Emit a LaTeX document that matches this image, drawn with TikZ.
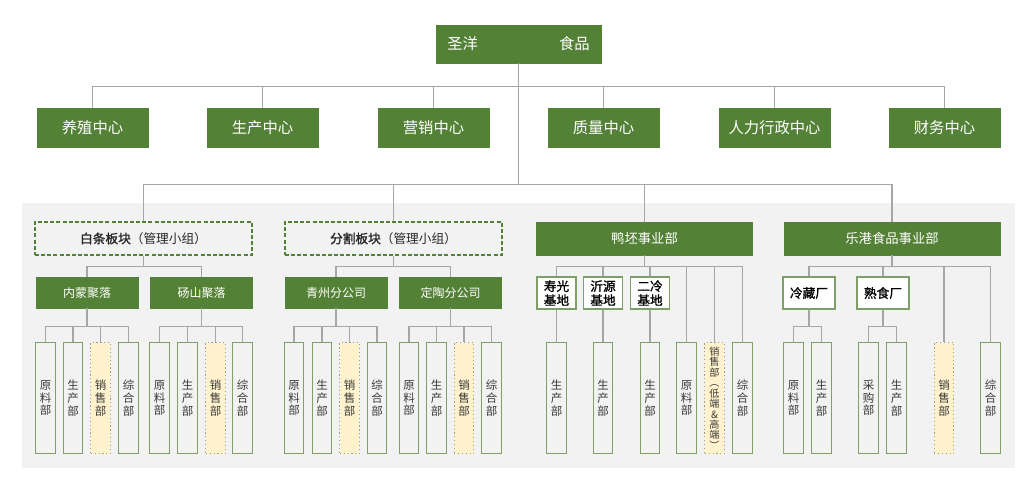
\documentclass[tikz,border=0pt]{standalone}
\usepackage{fontspec}
\setmainfont{Noto Sans CJK SC}
\newfontfamily\semib{Noto Sans CJK SC}[FakeBold=1.2]
\usetikzlibrary{calc}
\definecolor{gr}{HTML}{538135}
\definecolor{ln}{HTML}{A6A6A6}
\definecolor{bg}{HTML}{F2F2F2}
\definecolor{db}{HTML}{7F9F68}
\definecolor{ylw}{HTML}{FFF2CC}
\definecolor{yb}{HTML}{A89A7E}
\definecolor{tx}{HTML}{3A3A3A}
\begin{document}
\begin{tikzpicture}[x=0.75pt,y=-0.75pt,
 conn/.style={draw=ln,line width=0.8pt},
 gbox/.style={fill=gr,draw=gr,text=white,inner sep=0pt},
 topbox/.style={gbox,minimum width=123.75pt,minimum height=28.5pt,font=\fontsize{11.5}{13}\selectfont},
 lone/.style={gbox,minimum width=83.25pt,minimum height=29.25pt,font=\fontsize{11.5}{13}\selectfont},
 dashbox/.style={draw=gr,dash pattern=on 3pt off 1.6pt,line width=1.1pt,minimum width=162.75pt,minimum height=24.75pt,inner sep=0pt,text=black!85,font=\fontsize{9.5}{11}\selectfont},
 secbox/.style={gbox,minimum width=162pt,minimum height=24.75pt,font=\fontsize{10}{12}\selectfont},
 subbox/.style={gbox,minimum width=76.5pt,minimum height=23.25pt,font=\fontsize{9}{11}\selectfont},
 basebox/.style={draw=db,fill=white,line width=0.9pt,minimum width=29.25pt,minimum height=24pt,inner sep=0pt,align=center,text=black,font=\semib\fontsize{9.5}{10.5}\selectfont},
 facbox/.style={basebox,minimum width=39pt},
 dept/.style={draw=db,fill=bg,line width=0.9pt,minimum width=14.6pt,minimum height=83.25pt,inner sep=0pt,align=center,text=tx,font=\fontsize{8.6}{9.4}\selectfont,anchor=north},
 sales/.style={dept,fill=ylw,draw=yb,dotted},
]
\useasboundingbox (0,0) rectangle (1024,485);
\fill[bg] (22,203) rectangle (1015,468);

% top and level 1
\node[topbox] (top) at (518.5,44) {圣洋\hspace{60.75pt}食品};
\node[lone] (l1) at (92.5,127.5) {养殖中心};
\node[lone] (l2) at (262.5,127.5) {生产中心};
\node[lone] (l3) at (433.5,127.5) {营销中心};
\node[lone] (l4) at (603.5,127.5) {质量中心};
\node[lone] (l5) at (774.5,127.5) {人力行政中心};
\node[lone] (l6) at (944.5,127.5) {财务中心};

\coordinate (u) at ($(top.south)+(0,23)$);
\draw[conn] (l1.north) |- (u) -| (l6.north);
\foreach \k in {2,3,4,5} {\draw[conn] (l\k.north) -- (l\k.north |- u);}

% sections
\node[dashbox] (s1) at (143.5,238.5) {{\semib 白条板块}（管理小组）};
\node[dashbox] (s2) at (393.5,238.5) {{\semib 分割板块}（管理小组）};
\node[secbox] (s3) at (644.5,238.5) {鸭坯事业部};
\node[secbox] (s4) at (892,238.5) {乐港食品事业部};

\coordinate (v) at ($(top.south)+(0,121)$);
\draw[conn] (top.south) -- (v);
\draw[conn] (s1.north) |- (v) -| (s4.north);
\draw[conn] (s2.north) -- (s2.north |- v);
\draw[conn] (s3.north) -- (s3.north |- v);

% section 1 and 2 subgroups
\node[subbox] (g11) at (87,292.5) {内蒙聚落};
\node[subbox] (g12) at (201.5,292.5) {砀山聚落};
\node[subbox] (g21) at (336,292.5) {青州分公司};
\node[subbox] (g22) at (450.5,292.5) {定陶分公司};

\coordinate (k1) at ($(s1.south)+(0,11)$);
\draw[conn] (s1.south) -- (k1);
\draw[conn] (g11.north) |- (k1) -| (g12.north);
\coordinate (k2) at ($(s2.south)+(0,11)$);
\draw[conn] (s2.south) -- (k2);
\draw[conn] (g21.north) |- (k2) -| (g22.north);

\foreach \g/\xa/\xb/\xc/\xd in {11/45.5/73/100.5/128.5, 12/159.5/187.5/215.5/242.5, 21/294/322/349.5/377, 22/409/436.5/464/491.5} {
  \node[dept] (d\g a) at (\xa,342) {原\\料\\部};
  \node[dept] (d\g b) at (\xb,342) {生\\产\\部};
  \node[sales] (d\g c) at (\xc,342) {销\\售\\部};
  \node[dept] (d\g d) at (\xd,342) {综\\合\\部};
  \coordinate (m\g) at ($(g\g.south)+(0,18)$);
  \draw[conn] (g\g.south) -- (m\g);
  \draw[conn] (d\g a.north) |- (m\g) -| (d\g d.north);
  \draw[conn] (d\g b.north) -- (d\g b.north |- m\g);
  \draw[conn] (d\g c.north) -- (d\g c.north |- m\g);
}

% section 3
\node[basebox] (b1) at (556.5,293) {寿光\\基地};
\node[basebox] (b2) at (603,293) {沂源\\基地};
\node[basebox] (b3) at (650,293) {二冷\\基地};
\node[dept] (d31) at (556.5,342) {生\\产\\部};
\node[dept] (d32) at (603,342) {生\\产\\部};
\node[dept] (d33) at (650,342) {生\\产\\部};
\node[dept] (d34) at (686.5,342) {原\\料\\部};
\node[sales,font=\fontsize{7.6}{7.85}\selectfont] (d35) at (714.5,342) {销\\售\\部\\︵\\低\\端\\\&\\高\\端\\︶};
\node[dept] (d36) at (742.5,342) {综\\合\\部};

\coordinate (k3) at ($(s3.south)+(0,11)$);
\draw[conn] (s3.south) -- (k3);
\draw[conn] (b1.north) |- (k3) -| (d36.north);
\draw[conn] (b2.north) -- (b2.north |- k3);
\draw[conn] (b3.north) -- (b3.north |- k3);
\draw[conn] (d34.north) -- (d34.north |- k3);
\draw[conn] (d35.north) -- (d35.north |- k3);
\draw[conn] (b1.south) -- (d31.north);
\draw[conn] (b2.south) -- (d32.north);
\draw[conn] (b3.south) -- (d33.north);

% section 4
\node[facbox] (f1) at (809,293) {冷藏厂};
\node[facbox] (f2) at (883,293) {熟食厂};
\node[dept] (d41) at (793.5,342) {原\\料\\部};
\node[dept] (d42) at (821.5,342) {生\\产\\部};
\node[dept] (d43) at (868.5,342) {采\\购\\部};
\node[dept] (d44) at (896.5,342) {生\\产\\部};
\node[sales] (d45) at (944,342) {销\\售\\部};
\node[dept] (d46) at (990.5,342) {综\\合\\部};

\coordinate (k4) at ($(s4.south)+(0,11)$);
\draw[conn] (s4.south) -- (k4);
\draw[conn] (f1.north) |- (k4) -| (d46.north);
\draw[conn] (f2.north) -- (f2.north |- k4);
\draw[conn] (d45.north) -- (d45.north |- k4);
\coordinate (n1) at ($(f1.south)+(0,17)$);
\draw[conn] (f1.south) -- (n1);
\draw[conn] (d41.north) |- (n1) -| (d42.north);
\coordinate (n2) at ($(f2.south)+(0,17)$);
\draw[conn] (f2.south) -- (n2);
\draw[conn] (d43.north) |- (n2) -| (d44.north);
\end{tikzpicture}
\end{document}
